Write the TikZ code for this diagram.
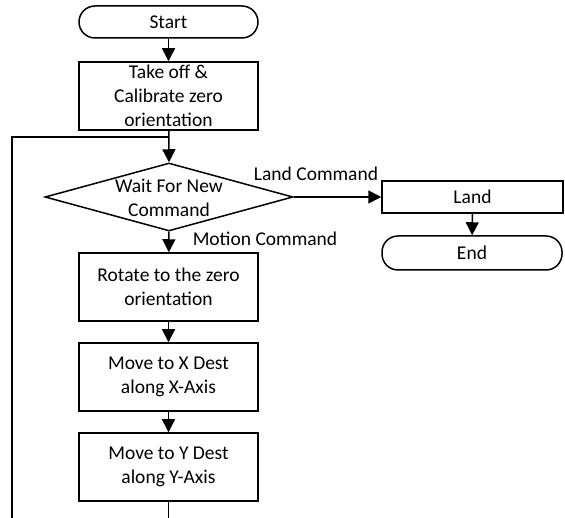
\documentclass[tikz,border=0pt]{standalone}
\usepackage{fontspec}
\setmainfont{Carlito}
\usetikzlibrary{arrows.meta,shapes.geometric}
\begin{document}
\begin{tikzpicture}[x=1pt,y=-1pt,
  every node/.style={font=\fontsize{19.5}{24}\selectfont},
  line/.style={line width=1.5pt},
  arr/.style={line width=1.5pt,-{Triangle[length=13pt,width=13pt]}},
  procbox/.style={draw,line width=1.5pt,minimum width=179pt,minimum height=68pt,inner sep=0pt,align=center},
  smallbox/.style={draw,line width=1.5pt,minimum width=181pt,minimum height=32pt,inner sep=0pt,align=center},
  term/.style={draw,line width=1.5pt,rounded corners=16pt,minimum width=179pt,minimum height=32pt,inner sep=0pt},
  decision/.style={draw,diamond,line width=1.5pt,minimum width=248pt,minimum height=68pt,inner sep=0pt},
  lbl/.style={inner sep=0pt}]
\useasboundingbox (0,0) rectangle (565,518);
\node[term] (start) at (168.5,22) {Start};
\node[procbox] (take) at (168.5,96) {Take off \&\\Calibrate zero\\orientation};
\node[decision] (wait) at (169,197) {};
\node[align=center,lbl] (waittxt) at (169,197.5) {Wait For New\\Command};
\node[smallbox] (land) at (472.5,197) {Land};
\node[term,minimum width=180pt,minimum height=34pt] (end) at (472,253) {End};
\node[procbox] (rot) at (168.5,287) {Rotate to the zero\\orientation};
\node[procbox] (mx) at (168.5,377) {Move to X Dest\\along X-Axis};
\node[procbox] (my) at (168.5,467) {Move to Y Dest\\along Y-Axis};
\node[lbl] (landlbl) at (316,174) {Land Command};
\node[lbl] (motlbl) at (265,239) {Motion Command};
\coordinate (join) at (168.5,137);
\coordinate (lt) at (12,137);
\coordinate (lb) at (12,518);
\coordinate (bot) at (168.5,518);
\draw[arr] (start) -- (take);
\draw[arr] (take) -- (wait.north);
\draw[line] (join) -- (lt) -- (lb);
\draw[arr] (wait.east) -- (land.west);
\draw[arr] (land) -- (end);
\draw[arr] (wait.south) -- (rot);
\draw[arr] (rot) -- (mx);
\draw[arr] (mx) -- (my);
\draw[line] (my) -- (bot);
\end{tikzpicture}
\end{document}
